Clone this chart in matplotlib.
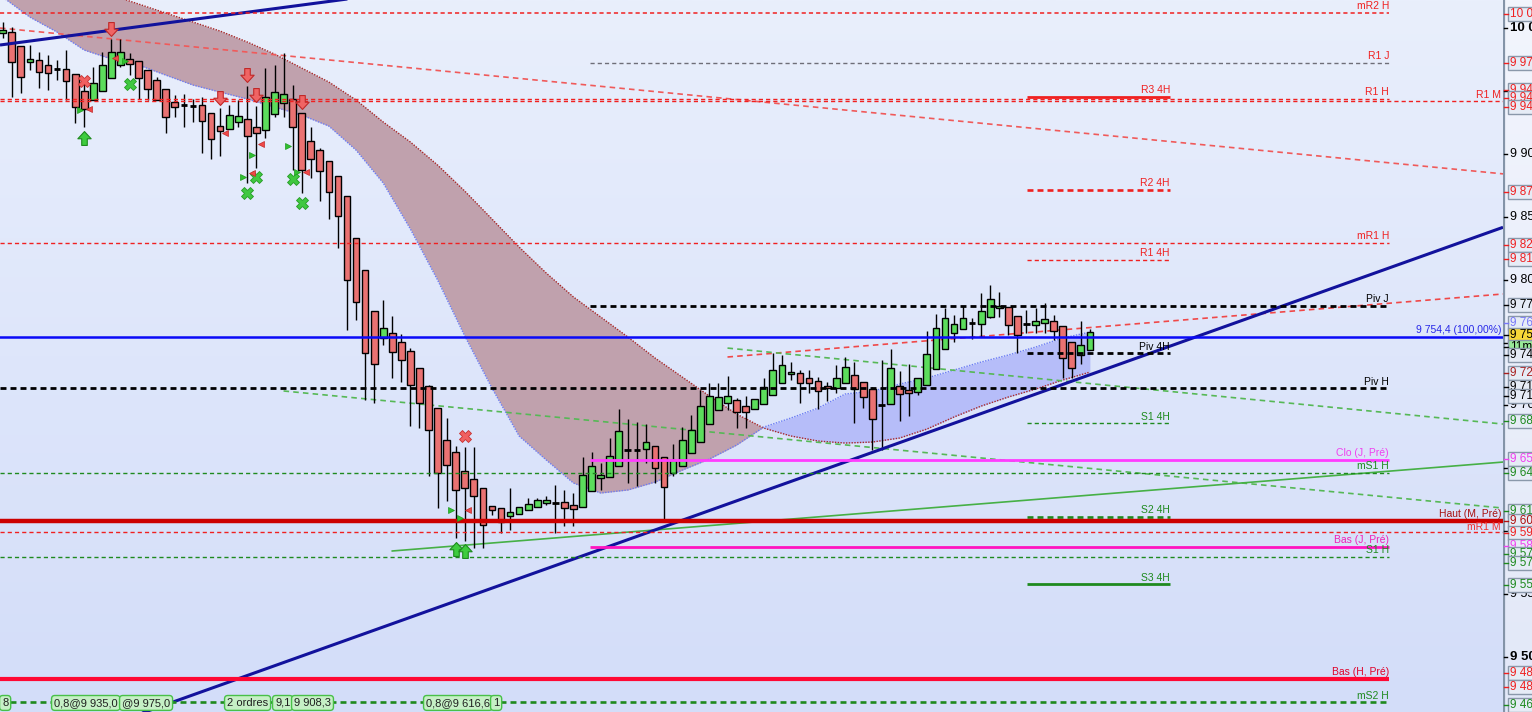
import numpy as np
import matplotlib
matplotlib.use("Agg")
import matplotlib.pyplot as plt
from matplotlib.path import Path
from matplotlib.patches import Rectangle
from matplotlib.colors import LinearSegmentedColormap
import matplotlib.transforms as mtransforms

# ---------------- data: candles (one per bar) ----------------
opens = [
    9996.1, 9996.9, 9985.7, 9973.0, 9974.6, 9970.6, 9967.4, 9967.4, 9963.5, 9950.0,
    9942.8, 9950.0, 9960.3, 9970.6, 9975.4, 9973.8, 9966.7, 9958.7, 9951.5, 9941.2,
    9938.8, 9938.0, 9938.8, 9932.5, 9922.1, 9919.7, 9925.3, 9927.7, 9921.3, 9919.0,
    9931.7, 9940.4, 9943.6, 9932.5, 9910.2, 9903.0, 9894.3, 9882.4, 9866.5, 9833.1,
    9807.7, 9775.0, 9753.6, 9757.6, 9750.4, 9743.3, 9729.8, 9715.4, 9697.9, 9672.5,
    9663.0, 9647.9, 9641.5, 9634.3, 9620.0, 9618.4, 9612.1, 9613.7, 9616.9, 9619.2,
    9622.4, 9622.4, 9623.2, 9620.8, 9619.2, 9632.0, 9642.3, 9643.1, 9651.8, 9664.6,
    9664.6, 9665.4, 9667.7, 9659.0, 9646.3, 9651.8, 9662.2, 9670.9, 9685.2, 9696.4,
    9701.9, 9704.3, 9699.5, 9697.1, 9701.1, 9708.3, 9717.8, 9725.0, 9725.8, 9721.8,
    9719.4, 9715.4, 9713.8, 9717.8, 9724.2, 9718.6, 9713.0, 9700.3, 9701.1, 9715.4,
    9712.2, 9710.7, 9716.2, 9729.0, 9744.8, 9757.6, 9760.7, 9765.5, 9764.7, 9770.3,
    9777.4, 9778.2, 9771.1, 9764.7, 9763.9, 9765.5, 9767.1, 9763.1, 9750.4, 9740.1,
    9744.1]
highs = [
    10004.8, 10000.8, 9985.7, 9986.5, 9981.0, 9978.6, 9974.6, 9982.5, 9963.5, 9958.7,
    9969.0, 9981.0, 9991.3, 9991.3, 9980.2, 9973.8, 9966.7, 9961.1, 9951.5, 9946.8,
    9947.6, 9943.6, 9945.2, 9932.5, 9936.4, 9938.8, 9942.8, 9953.9, 9938.0, 9968.2,
    9970.6, 9980.2, 9954.7, 9932.5, 9921.3, 9904.6, 9894.3, 9882.4, 9866.5, 9833.1,
    9807.7, 9775.0, 9783.8, 9771.1, 9756.8, 9745.6, 9729.8, 9716.2, 9697.9, 9690.0,
    9667.7, 9666.9, 9666.9, 9634.3, 9620.0, 9618.4, 9634.3, 9619.2, 9626.4, 9626.4,
    9628.0, 9636.7, 9632.8, 9630.4, 9659.0, 9663.0, 9654.2, 9674.1, 9697.1, 9689.2,
    9686.8, 9685.2, 9667.7, 9659.0, 9669.3, 9682.8, 9692.4, 9712.2, 9717.8, 9717.8,
    9723.4, 9705.9, 9707.5, 9705.1, 9721.8, 9741.7, 9740.1, 9734.5, 9728.2, 9728.2,
    9722.6, 9718.6, 9732.1, 9738.5, 9734.5, 9718.6, 9714.6, 9736.1, 9744.8, 9727.4,
    9732.9, 9721.8, 9759.2, 9772.7, 9777.4, 9771.9, 9779.0, 9769.5, 9789.4, 9795.7,
    9790.2, 9778.2, 9771.1, 9775.8, 9777.4, 9781.4, 9771.9, 9763.1, 9750.4, 9767.1,
    9761.0]
lows = [
    9992.1, 9945.2, 9948.4, 9966.7, 9952.3, 9950.7, 9958.7, 9942.8, 9924.5, 9921.3,
    9942.8, 9950.0, 9960.3, 9969.0, 9962.7, 9943.6, 9942.8, 9942.8, 9916.6, 9929.3,
    9921.3, 9925.3, 9900.7, 9895.9, 9898.3, 9919.7, 9921.3, 9876.8, 9888.7, 9912.6,
    9929.3, 9929.3, 9887.1, 9868.9, 9880.8, 9862.5, 9848.2, 9825.1, 9760.0, 9767.9,
    9704.3, 9701.9, 9748.0, 9721.8, 9718.6, 9683.6, 9682.0, 9643.9, 9618.4, 9624.0,
    9594.6, 9592.2, 9586.6, 9586.6, 9612.9, 9598.6, 9600.9, 9613.7, 9616.9, 9619.2,
    9620.8, 9598.6, 9604.1, 9604.1, 9619.2, 9632.0, 9632.8, 9643.1, 9651.8, 9638.3,
    9635.9, 9654.2, 9638.3, 9608.9, 9643.9, 9651.8, 9662.2, 9670.9, 9685.2, 9696.4,
    9696.4, 9682.0, 9682.0, 9697.1, 9701.1, 9708.3, 9717.8, 9720.2, 9701.9, 9709.9,
    9697.1, 9703.5, 9709.9, 9717.8, 9686.0, 9697.9, 9664.6, 9664.6, 9701.1, 9687.6,
    9691.6, 9708.3, 9716.2, 9729.0, 9744.8, 9750.4, 9760.7, 9752.8, 9754.4, 9769.5,
    9770.3, 9756.0, 9741.7, 9757.6, 9757.6, 9757.6, 9752.0, 9721.8, 9721.8, 9732.9,
    9744.1]
closes = [
    9998.4, 9973.0, 9961.1, 9975.4, 9965.1, 9964.3, 9967.4, 9957.9, 9937.2, 9935.6,
    9956.3, 9970.6, 9981.0, 9981.0, 9971.4, 9960.3, 9951.5, 9942.8, 9929.3, 9937.2,
    9938.8, 9938.0, 9926.1, 9911.8, 9918.2, 9930.9, 9930.1, 9914.2, 9916.6, 9945.2,
    9949.2, 9947.6, 9921.3, 9887.1, 9895.9, 9886.3, 9869.7, 9850.6, 9799.7, 9782.2,
    9741.7, 9732.9, 9761.5, 9742.5, 9736.1, 9716.2, 9701.9, 9680.4, 9646.3, 9652.6,
    9632.8, 9634.3, 9628.0, 9604.9, 9616.9, 9607.3, 9615.3, 9619.2, 9621.6, 9624.8,
    9624.8, 9622.4, 9618.4, 9617.6, 9644.7, 9651.8, 9644.7, 9659.8, 9679.7, 9664.6,
    9664.6, 9670.9, 9650.2, 9635.1, 9656.6, 9672.5, 9680.4, 9699.5, 9707.5, 9706.7,
    9707.5, 9694.8, 9694.8, 9705.1, 9714.6, 9728.2, 9732.1, 9726.6, 9717.8, 9717.8,
    9711.4, 9713.8, 9721.8, 9730.6, 9713.0, 9706.7, 9689.2, 9700.3, 9729.8, 9709.1,
    9709.9, 9721.8, 9740.9, 9761.5, 9769.5, 9764.7, 9769.5, 9765.5, 9775.0, 9784.6,
    9779.0, 9763.9, 9756.0, 9764.7, 9767.1, 9768.7, 9759.2, 9737.7, 9729.8, 9748.0,
    9758.4]

# ---------------- data: cloud (read every 3 bars) ----------------
cloud_bars = [0, 3, 6, 9, 12, 15, 18, 21, 24, 27, 30, 33, 36, 39, 42, 45, 48, 51, 54, 57,
              60, 63, 66, 69, 72, 75, 78, 81, 84, 87, 90, 93, 96, 99, 102, 105, 108, 111,
              114, 117, 120]
cloud_a = [10052.5, 10046.1, 10039.7, 10033.4, 10026.2, 10019.1, 10011.9, 10004.8, 9997.6,
           9988.9, 9979.3, 9968.2, 9957.1, 9942.8, 9925.3, 9909.4, 9891.1, 9870.4, 9848.2,
           9825.9, 9805.2, 9786.2, 9770.3, 9754.4, 9737.7, 9722.6, 9707.5, 9693.2, 9682.0,
           9675.7, 9671.7, 9670.1, 9670.9, 9674.1, 9681.2, 9690.8, 9699.5, 9706.7, 9713.0,
           9720.2, 9726.5]
cloud_b = [10024.6, 10008.7, 9996.8, 9982.5, 9975.4, 9970.6, 9962.6, 9954.7, 9949.1, 9943.6,
           9937.2, 9930.8, 9922.1, 9903.0, 9876.8, 9840.2, 9799.7, 9755.2, 9713.8, 9675.7,
           9656.6, 9638.3, 9630.4, 9632.8, 9639.1, 9648.6, 9657.4, 9668.5, 9682.8, 9690.0,
           9697.9, 9709.1, 9711.4, 9717.0, 9721.8, 9728.1, 9734.5, 9740.1, 9746.4, 9753.6,
           9758.3]

# ---------------- data: horizontal levels ----------------
level_names = ['mR2 H', 'R1 J', 'R1 H', 'R1 M', 'R3 4H', 'R2 4H', 'mR1 H', 'R1 4H',
               'Piv J', 'Piv 4H', 'Piv H', 'S1 4H', 'Clo (J, Pré)', 'mS1 H', 'S2 4H',
               'Haut (M, Pré)', 'mR1 M', 'Bas (J, Pré)', 'S1 H', 'S3 4H', 'Bas (H, Pré)', 'mS2 H']
level_prices = [10012.0, 9972.2, 9943.6, 9941.7, 9945.2, 9871.3, 9829.1, 9815.6,
                9779.3, 9741.4, 9713.6, 9685.8, 9656.6, 9646.5, 9611.6,
                9608.1, 9599.2, 9587.4, 9579.5, 9557.8, 9482.5, 9463.9]
level_period = ['H', 'J', 'H', 'M', '4H', '4H', 'H', '4H',
                'J', '4H', 'H', '4H', 'J', 'H', '4H',
                'M', 'M', 'J', 'H', '4H', 'H', 'H']
ref_price = 9754.4
ref_label = '9 754,4 (100,00%)'

# ---------------- data: trend lines (bar, price) anchors ----------------
navy_lines = [((0, 9986.8), (37, 10022.1)), ((52, 9549.6), (120, 9724.4))]
diag_red_long = ((0, 9999.8), (160, 9888.0))
diag_red_short = ((80, 9738.5), (165.6, 9788.6))
diag_green_up = ((80, 9745.6), (165.6, 9685.2))
diag_green_low = ((31, 9711.5), (165.6, 9618.4))
diag_green_solid = ((43, 9584.3), (165.6, 9655.0))

# ---------------- data: signals ----------------
down_arrow_bars = [12, 24, 27, 28, 33]
down_arrow_prices = [9999.2, 9944.4, 9962.3, 9946.8, 9941.2]
up_arrow_bars = [9, 50, 51]
up_arrow_prices = [9912.6, 9585.8, 9584.3]
green_x_bars = [14, 27, 28, 32, 33]
green_x_prices = [9955.5, 9868.9, 9881.6, 9880.0, 9860.9]
red_x_bars = [9, 51]
red_x_prices = [9957.9, 9675.7]
green_tri_bars = [8.53, 13.5, 27.5, 26.5, 31.5, 32.5, 49.5, 50.5]
green_tri_prices = [9934.9, 9973.8, 9899.1, 9881.6, 9906.2, 9885.6, 9616.9, 9610.5]
red_tri_bars = [9.53, 12.4, 24.5, 28.5, 27.5, 33.5, 51.4]
red_tri_prices = [9935.6, 9976.2, 9916.6, 9907.8, 9884.8, 9885.6, 9616.9]

# ---------------- data: price scale ----------------
tick_values = [10000, 9950, 9900, 9850, 9800, 9750, 9700, 9650, 9600, 9550, 9500]
box_prices = [10011.2, 9972.2, 9950.7, 9944.4, 9937.2, 9869.7, 9827.5, 9816.4, 9779.8,
              9765.5, 9756.0, 9746.4, 9740.1, 9725.8, 9714.6, 9707.5, 9687.6, 9657.4,
              9646.3, 9616.1, 9608.1, 9598.6, 9588.2, 9581.9, 9574.7, 9557.2, 9487.3,
              9476.1, 9461.8]
box_texts = ['10 012', '9 972', '9 946', '9 944', '9 942', '9 870', '9 828', '9 815', '9 779',
             '9 762', '9 758', '11m55s', '9 741', '9 723', '9 716', '9 713', '9 686', '9 656',
             '9 646', '9 618', '9 608', '9 599', '9 586', '9 576', '9 579', '9 557', '9 483',
             '9 482', '9 463']

# ---------------- data: order tags ----------------
order_texts = ['8', '0,8@9 935,0', '@9 975,0', '2 ordres', '9,1', '9 908,3', '0,8@9 616,6', '1']
order_price = 9463.5

# ================= layout & style =================
FIG_W, FIG_H = 1532, 712
PLOT_W = 1503
X0, DX = 2.7, 9.06
P_TOP, P_BOT = 10022.3, 9456.3


def bar_of(px):
    return (px - X0) / DX


RED = '#F02020'
GREEN = '#1E8A1E'
span_px = {'H': (0, 1389), 'J': (590, 1389), '4H': (1027, 1170), 'M': (0, 1503)}
label_end_px = {'H': 1389, 'J': 1389, '4H': 1170, 'M': 1501}
level_style = {
    'mR2 H': (RED, 'thin', 1.1, RED),
    'R1 J': ('#6E6E78', 'thin', 1.0, RED),
    'R1 H': (RED, 'thin', 1.0, RED),
    'R1 M': (RED, 'thin', 1.0, RED),
    'R3 4H': (RED, 'solid', 2.0, RED),
    'R2 4H': (RED, 'thick', 1.9, RED),
    'mR1 H': (RED, 'thin', 1.0, RED),
    'R1 4H': (RED, 'thin', 1.0, RED),
    'Piv J': ('black', 'thick', 2.0, 'black'),
    'Piv 4H': ('black', 'thick', 2.0, 'black'),
    'Piv H': ('black', 'thick', 2.0, 'black'),
    'S1 4H': (GREEN, 'thin', 1.0, GREEN),
    'Clo (J, Pré)': ('#FF3CFF', 'solid', 2.0, '#F040F0'),
    'mS1 H': (GREEN, 'thin', 1.0, GREEN),
    'S2 4H': (GREEN, 'thick', 1.9, GREEN),
    'Haut (M, Pré)': ('#CC0000', 'solid', 3.2, '#A81010'),
    'mR1 M': (RED, 'thin', 1.0, '#F03030'),
    'Bas (J, Pré)': ('#FF14C0', 'solid', 2.0, '#F020B8'),
    'S1 H': (GREEN, 'thin', 1.0, GREEN),
    'S3 4H': (GREEN, 'solid', 2.0, GREEN),
    'Bas (H, Pré)': ('#FF0834', 'solid', 3.0, '#E00028'),
    'mS2 H': (GREEN, 'thick', 1.9, GREEN),
}
dash_of = {'thin': (3.0, 2.2), 'thick': (4.3, 2.9)}

plt.rcParams['font.family'] = ['Liberation Sans', 'DejaVu Sans']
plt.rcParams['lines.scale_dashes'] = False

fig = plt.figure(figsize=(FIG_W / 100, FIG_H / 100), dpi=100)
ax = fig.add_axes([0, 0, PLOT_W / FIG_W, 1])
xl = (bar_of(0), bar_of(PLOT_W))

bg = LinearSegmentedColormap.from_list('bg', ['#D3DDF9', '#E9EFFC'])
grad = np.linspace(0, 1, 256).reshape(-1, 1)
ax.imshow(grad, extent=[xl[0], xl[1], P_BOT, P_TOP], origin='lower', aspect='auto',
          cmap=bg, zorder=0, interpolation='bilinear')

# ---- cloud ----
cbx = np.array(cloud_bars, float)
ca = np.array(cloud_a)
cb = np.array(cloud_b)
ax.fill_between(cbx, ca, cb, where=ca >= cb, interpolate=True, color='#C0A1AD', lw=0, zorder=1)
ax.fill_between(cbx, ca, cb, where=ca < cb, interpolate=True, color='#B6BDF9', lw=0, zorder=1)
ax.plot(cbx, ca, color='#A82828', lw=1.0, dashes=(1.0, 1.0), zorder=1.2)
ax.plot(cbx, cb, color='#6C7CF4', lw=1.0, dashes=(1.0, 1.0), zorder=1.2)


def line_through(anchor, x_from, x_to):
    (xa, ya), (xb, yb) = anchor
    k = (yb - ya) / (xb - xa)
    return [x_from, x_to], [ya + k * (x_from - xa), ya + k * (x_to - xa)]


# ---- diagonal lines ----
xs, ys = line_through(diag_red_long, xl[0], xl[1])
ax.plot(xs, ys, color='#F05A5A', lw=1.2, dashes=(4.0, 3.0), zorder=2)
xs, ys = line_through(diag_red_short, diag_red_short[0][0], xl[1])
ax.plot(xs, ys, color='#F04848', lw=1.2, dashes=(4.0, 3.0), zorder=2)
xs, ys = line_through(diag_green_up, diag_green_up[0][0], xl[1])
ax.plot(xs, ys, color='#56B856', lw=1.2, dashes=(4.0, 3.0), zorder=2)
xs, ys = line_through(diag_green_low, diag_green_low[0][0], xl[1])
ax.plot(xs, ys, color='#56B856', lw=1.2, dashes=(4.0, 3.0), zorder=2)
xs, ys = line_through(diag_green_solid, diag_green_solid[0][0], xl[1])
ax.plot(xs, ys, color='#46B046', lw=1.2, zorder=2)

# ---- candles ----
o = np.array(opens); h = np.array(highs); l = np.array(lows); c = np.array(closes)
xb = np.arange(len(o))
ax.vlines(xb, l, h, color='black', lw=1.0, zorder=3)
BW = 0.74
for i in range(len(o)):
    if abs(c[i] - o[i]) < 0.5:
        ax.hlines(o[i], i - BW / 2, i + BW / 2, color='black', lw=2.0, zorder=3.2)
    else:
        col = '#5CDD5C' if c[i] > o[i] else '#EA7272'
        ax.add_patch(Rectangle((i - BW / 2, min(o[i], c[i])), BW, abs(c[i] - o[i]),
                               fc=col, ec='black', lw=1.0, zorder=3.1))

# ---- navy trend lines ----
for nl in navy_lines:
    xs, ys = line_through(nl, xl[0], xl[1])
    ax.plot(xs, ys, color='#12129C', lw=2.2, zorder=3.5, solid_capstyle='butt')

# ---- horizontal levels ----
for name, price, per in zip(level_names, level_prices, level_period):
    col, kind, lw, lcol = level_style[name]
    x0p, x1p = span_px[per]
    kw = dict(color=col, lw=lw, zorder=3.6)
    if kind != 'solid':
        kw['dashes'] = dash_of[kind]
    ax.plot([bar_of(x0p), bar_of(x1p)], [price, price], solid_capstyle='butt', **kw)
    va = 'bottom'
    off = 1.2
    if name == 'mR1 M':
        off = 0.0
    ax.annotate(name, xy=(bar_of(label_end_px[per]), price), xytext=(0, off),
                textcoords='offset points', ha='right', va=va, fontsize=7.5,
                color=lcol, zorder=6)

ax.plot([xl[0], xl[1]], [ref_price, ref_price], color='#0A0AF8', lw=1.8, zorder=3.6)
ax.annotate(ref_label, xy=(bar_of(1501), ref_price), xytext=(0, 1.2), textcoords='offset points',
            ha='right', va='bottom', fontsize=7.5, color='#2828E8', zorder=6)

# ---- signal markers ----
arrow_down = Path([(-0.2, 0.5), (0.2, 0.5), (0.2, 0.02), (0.48, 0.02), (0.0, -0.5),
                   (-0.48, 0.02), (-0.2, 0.02), (-0.2, 0.5)],
                  [Path.MOVETO] + [Path.LINETO] * 6 + [Path.CLOSEPOLY])
arrow_up = Path([(-0.2, -0.5), (0.2, -0.5), (0.2, -0.02), (0.48, -0.02), (0.0, 0.5),
                 (-0.48, -0.02), (-0.2, -0.02), (-0.2, -0.5)],
                [Path.MOVETO] + [Path.LINETO] * 6 + [Path.CLOSEPOLY])
ax.plot(down_arrow_bars, down_arrow_prices, ls='none', marker=arrow_down, ms=10,
        mfc='#F06464', mec='#C02828', mew=0.8, zorder=5)
ax.plot(up_arrow_bars, up_arrow_prices, ls='none', marker=arrow_up, ms=10,
        mfc='#3ECC3E', mec='#1E8A1E', mew=0.8, zorder=5)
ax.plot(green_x_bars, green_x_prices, ls='none', marker='X', ms=8.5,
        mfc='#40C840', mec='#249A24', mew=0.6, zorder=5)
ax.plot(red_x_bars, red_x_prices, ls='none', marker='X', ms=8.5,
        mfc='#F06060', mec='#C83030', mew=0.6, zorder=5)
ax.plot(green_tri_bars, green_tri_prices, ls='none', marker='>', ms=5,
        mfc='#30C030', mec='#1E9A1E', mew=0.5, zorder=5)
ax.plot(red_tri_bars, red_tri_prices, ls='none', marker='<', ms=5,
        mfc='#F04848', mec='#C02828', mew=0.5, zorder=5)

# ---- order tags along the bottom ----
order_px = [0, 52, 120, 225, 273, 292, 424, 491]
for t, px in zip(order_texts, order_px):
    ax.text(bar_of(px + 2), order_price, t, ha='left', va='center', fontsize=8, color='#202020',
            zorder=7, bbox=dict(boxstyle='round,pad=0.22,rounding_size=0.3', fc='#C6F0C6',
                                ec='#48C048', lw=1.0))

ax.set_xlim(*xl)
ax.set_ylim(P_BOT, P_TOP)
ax.set_axis_off()

# ================= right price scale =================
RW = FIG_W - PLOT_W
axr = fig.add_axes([PLOT_W / FIG_W, 0, RW / FIG_W, 1])
axr.imshow(grad, extent=[0, RW, P_BOT, P_TOP], origin='lower', aspect='auto',
           cmap=LinearSegmentedColormap.from_list('bg2', ['#E2E8F8', '#F2F5FD']), zorder=0)
axr.plot([0.6, 0.6], [P_BOT, P_TOP], color='#8494A8', lw=1.6, zorder=1)
for v in tick_values:
    bold = (v % 500 == 0)
    txt = f"{v:,}".replace(',', ' ')
    axr.plot([0.6, 4], [v, v], color='black', lw=1.0, zorder=1)
    axr.text(7, v, txt, ha='left', va='center', fontsize=9.5 if bold else 9,
             fontweight='bold' if bold else 'normal', color='black', zorder=1)

box_colors = [RED, RED, RED, RED, RED, RED, RED, RED, 'black',
              '#7878F8', 'black', 'black', 'black', '#A82020', 'black', 'black', GREEN, '#F040F0',
              GREEN, GREEN, '#B01010', RED, '#F040F0', GREEN, GREEN, GREEN, RED,
              RED, GREEN]
box_fill = {'9 758': '#F8D838', '11m55s': '#98E898'}
BH = 14 * (P_TOP - P_BOT) / FIG_H
for k, (p, t, col) in enumerate(zip(box_prices, box_texts, box_colors)):
    fc = box_fill.get(t, '#E6ECF6')
    axr.add_patch(Rectangle((5, p - BH / 2), 40, BH, fc=fc, ec='#8A98AA', lw=1.0, zorder=2 + k * 0.01))
    axr.plot([0.6, 5], [p, p], color=col, lw=1.0, zorder=2 + k * 0.01)
    axr.text(7, p, t, ha='left', va='center', fontsize=8.5, color=col, zorder=2.005 + k * 0.01)
axr.set_xlim(0, RW)
axr.set_ylim(P_BOT, P_TOP)
axr.set_axis_off()

fig.savefig('out.png', dpi=100)
